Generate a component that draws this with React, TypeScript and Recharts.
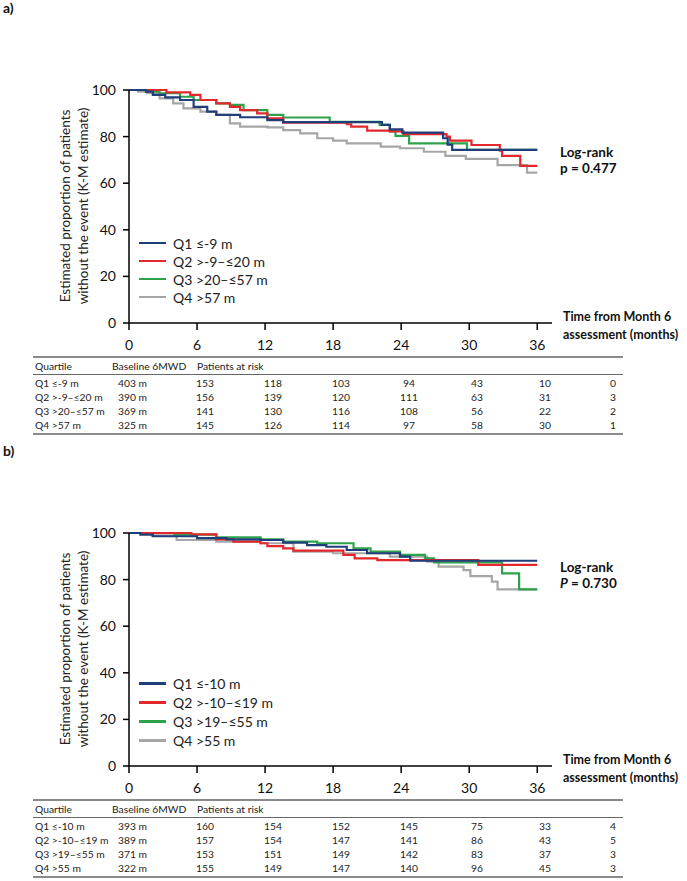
import { LineChart, Line, XAxis, YAxis, Legend } from 'recharts'

const months = [0, 6, 12, 18, 24, 30, 36]
const pctTicks = [0, 20, 40, 60, 80, 100]
const colors = ['#1f3e7a', '#e2282c', '#2ea24a', '#a6a6a6']

// panel a
const aLabels = ['Q1 ≤-9 m', 'Q2 >-9–≤20 m', 'Q3 >20–≤57 m', 'Q4 >57 m']
const aBaseline = ['403 m', '390 m', '369 m', '325 m']
const aRisk = [
  [153, 118, 103, 94, 43, 10, 0],
  [156, 139, 120, 111, 63, 31, 3],
  [141, 130, 116, 108, 56, 22, 2],
  [145, 126, 114, 97, 58, 30, 1],
]
const aQ1Time = [0, 1.5, 2.1, 3.2, 4.5, 5.7, 6.9, 7.7, 9.8, 12.2, 13.6, 22.3, 23, 24.1, 27.7, 28.1, 28.5, 36]
const aQ1Surv = [100, 99.3, 97.9, 96.8, 95.7, 92.8, 90.7, 89.3, 88.3, 87.1, 86.2, 85, 83.1, 81.7, 79.3, 76.5, 74.3, 74.3]
const aQ2Time = [0, 3.3, 5.4, 6.3, 7.7, 8.9, 9.8, 11.3, 12.2, 13.6, 19.2, 19.6, 21, 23, 24.2, 28, 28.3, 30.2, 32.7, 32.9, 34.5, 36]
const aQ2Surv = [100, 99, 97.9, 95.7, 94.3, 92.8, 91.4, 90, 87.8, 86, 85.3, 84.3, 82.6, 82.2, 81.1, 80, 78.3, 76.4, 74, 71.7, 67.4, 67.4]
const aQ3Time = [0, 1.5, 2.7, 4.5, 5.7, 7.7, 8.9, 10.1, 12.2, 13.6, 17.7, 22.1, 23, 23.5, 24.7, 29.8, 36]
const aQ3Surv = [100, 99.3, 98.6, 97.1, 95.7, 94.3, 93.6, 91.4, 89.3, 88.2, 86.3, 85, 82.2, 80.3, 77.1, 74.3, 74.3]
const aQ4Time = [0, 0.8, 1.6, 2.7, 3.9, 4.8, 6.3, 7.7, 8.9, 9.8, 12.2, 13.6, 15.1, 16.6, 18, 19.2, 22.2, 23.9, 26, 27.9, 29.7, 32.5, 35.1, 36]
const aQ4Surv = [100, 99.3, 98.6, 96.4, 94.3, 92.1, 90.7, 89.3, 85.7, 84.3, 84, 82.8, 81.4, 79.3, 78.3, 77.1, 75.7, 75, 73.5, 71.7, 70.4, 67.8, 64.5, 64.5]

// panel b
const bLabels = ['Q1 ≤-10 m', 'Q2 >-10–≤19 m', 'Q3 >19–≤55 m', 'Q4 >55 m']
const bBaseline = ['393 m', '389 m', '371 m', '322 m']
const bRisk = [
  [160, 154, 152, 145, 75, 33, 4],
  [157, 154, 147, 141, 86, 43, 5],
  [153, 151, 149, 142, 83, 37, 3],
  [155, 149, 147, 140, 96, 45, 3],
]
const bQ1Time = [0, 1, 2.1, 6, 8.6, 11.6, 13.6, 15.7, 17.4, 19.2, 21, 23.9, 24.8, 36]
const bQ1Surv = [100, 99.3, 98.6, 97.8, 97.3, 97, 95.9, 94.8, 94.1, 92.7, 91.3, 89.9, 88.1, 88.1]
const bQ2Time = [0, 5.5, 7.7, 9.2, 11.6, 12.2, 13.6, 14.5, 18.9, 19.9, 21.9, 30.8, 36]
const bQ2Surv = [100, 99.4, 97.3, 96.3, 95.6, 94.4, 93.4, 92.4, 90.6, 89.1, 88.4, 86.3, 86.3]
const bQ3Time = [0, 4, 7.7, 11.6, 13.6, 16.6, 19.8, 21.3, 23.9, 26.1, 26.9, 32.9, 34.4, 36]
const bQ3Surv = [100, 99.3, 98.1, 97.3, 96.3, 95.6, 93.4, 92, 90.6, 89.1, 87.4, 82.7, 75.8, 75.8]
const bQ4Time = [0, 2, 4.2, 7.7, 11.6, 14.5, 18, 23, 26.3, 27.3, 29.5, 30.1, 32, 32.5, 36]
const bQ4Surv = [100, 99, 97, 96.3, 95.6, 92, 91.3, 89.9, 87.7, 85.6, 84.1, 81.5, 79.1, 75.8, 75.8]

const zip = (t: number[], s: number[]) => t.map((x, i) => ({ t: x, s: s[i] }))

const aSeries = [zip(aQ1Time, aQ1Surv), zip(aQ2Time, aQ2Surv), zip(aQ3Time, aQ3Surv), zip(aQ4Time, aQ4Surv)]
const bSeries = [zip(bQ1Time, bQ1Surv), zip(bQ2Time, bQ2Surv), zip(bQ3Time, bQ3Surv), zip(bQ4Time, bQ4Surv)]

const font = 'Lato, "Open Sans", sans-serif'
const colX = [205, 273, 341, 409, 477, 545, 613]

const abs = (left: number, top: number, extra: React.CSSProperties = {}): React.CSSProperties => ({
  position: 'absolute',
  left,
  top,
  whiteSpace: 'nowrap',
  ...extra,
})

function Panel({ top, tag, labels, baseline, risk, series, pTop, pText, legendTop, legendRow }: any) {
  const renderLegend = () => (
    <div style={{ fontFamily: font, fontSize: 14, color: '#222' }}>
      {labels.map((l: string, i: number) => (
        <div key={l} style={{ display: 'flex', alignItems: 'center', height: legendRow }}>
          <span style={{ width: 27, height: 2.5, background: colors[i], display: 'inline-block', marginRight: 7 }} />
          <span>{l}</span>
        </div>
      ))}
    </div>
  )

  return (
    <div style={{ position: 'absolute', left: 0, top, width: 687, height: 440, fontFamily: font, color: '#111' }}>
      <div style={abs(3, 0, { fontWeight: 700, fontSize: 14, lineHeight: '16px' })}>{tag}</div>

      <div style={{ position: 'absolute', left: 0, top: 0 }}>
        <LineChart width={687} height={360} margin={{ top: 90, right: 135, bottom: 7, left: 69 }} style={{ fontFamily: font }}>
          <XAxis
            dataKey="t"
            type="number"
            domain={[0, 37.3]}
            ticks={months}
            allowDuplicatedCategory={false}
            height={30}
            tickSize={7}
            tickMargin={10}
            axisLine={{ stroke: '#000', strokeWidth: 1.5 }}
            tickLine={{ stroke: '#000', strokeWidth: 1.5 }}
            tick={{ fontSize: 14, fill: '#111' }}
            interval={0}
          />
          <YAxis
            type="number"
            domain={[0, 100]}
            ticks={pctTicks}
            width={60}
            tickSize={6}
            tickMargin={7}
            axisLine={{ stroke: '#000', strokeWidth: 1.5 }}
            tickLine={{ stroke: '#000', strokeWidth: 1.5 }}
            tick={{ fontSize: 14, fill: '#111' }}
            interval={0}
          />
          <Legend
            layout="vertical"
            align="center"
            verticalAlign="middle"
            content={renderLegend}
            wrapperStyle={{ left: 139, top: legendTop, width: 200 }}
          />
          {[3, 2, 1, 0].map((i) => (
            <Line
              key={i}
              data={series[i]}
              dataKey="s"
              name={labels[i]}
              type="stepAfter"
              stroke={colors[i]}
              strokeWidth={2.2}
              dot={false}
              activeDot={false}
              isAnimationActive={false}
            />
          ))}
        </LineChart>
      </div>

      <div
        style={abs(-46, 188, {
          width: 240,
          height: 36,
          transform: 'rotate(-90deg)',
          textAlign: 'center',
          fontSize: 13.5,
          lineHeight: '18px',
          color: '#222',
        })}
      >
        Estimated proportion of patients
        <br />
        without the event (K-M estimate)
      </div>

      <div style={abs(560, pTop, { fontWeight: 700, fontSize: 13.5, lineHeight: '16px' })}>
        Log-rank
        <br />
        {pText}
      </div>

      <div style={abs(563, 308, { fontWeight: 700, fontSize: 12.5, lineHeight: '18px' })}>
        Time from Month 6
        <br />
        assessment (months)
      </div>

      {/* at-risk table */}
      <div style={abs(33, 356, { width: 590, height: 2, background: '#8a8a8a' })} />
      <div style={abs(33, 374, { width: 590, height: 1, background: '#666' })} />
      <div style={abs(33, 433, { width: 590, height: 2, background: '#8a8a8a' })} />
      <div style={{ position: 'absolute', left: 0, top: 0, fontSize: 10.3, color: '#222' }}>
        <div style={abs(35, 359, { lineHeight: '14px' })}>Quartile</div>
        <div style={abs(112, 359, { lineHeight: '14px' })}>Baseline 6MWD</div>
        <div style={abs(197, 359, { lineHeight: '14px' })}>Patients at risk</div>
        {labels.map((l: string, r: number) => (
          <div key={l}>
            <div style={abs(35, 376 + r * 14, { lineHeight: '14px' })}>{l}</div>
            <div style={abs(118, 376 + r * 14, { lineHeight: '14px' })}>{baseline[r]}</div>
            {risk[r].map((n: number, c: number) => (
              <div key={c} style={abs(colX[c] - 20, 376 + r * 14, { width: 40, textAlign: 'center', lineHeight: '14px' })}>
                {n}
              </div>
            ))}
          </div>
        ))}
      </div>
    </div>
  )
}

export default function App() {
  return (
    <div style={{ position: 'absolute', left: 0, top: 0, width: 687, height: 881, background: '#fff' }}>
      <Panel
        top={0}
        tag="a)"
        labels={aLabels}
        baseline={aBaseline}
        risk={aRisk}
        series={aSeries}
        pTop={144}
        pText="p = 0.477"
        legendTop={234}
        legendRow={18}
      />
      <Panel
        top={443}
        tag="b)"
        labels={bLabels}
        baseline={bBaseline}
        risk={bRisk}
        series={bSeries}
        pTop={116}
        pText={
          <>
            <i>P</i> = 0.730
          </>
        }
        legendTop={231}
        legendRow={19}
      />
    </div>
  )
}
